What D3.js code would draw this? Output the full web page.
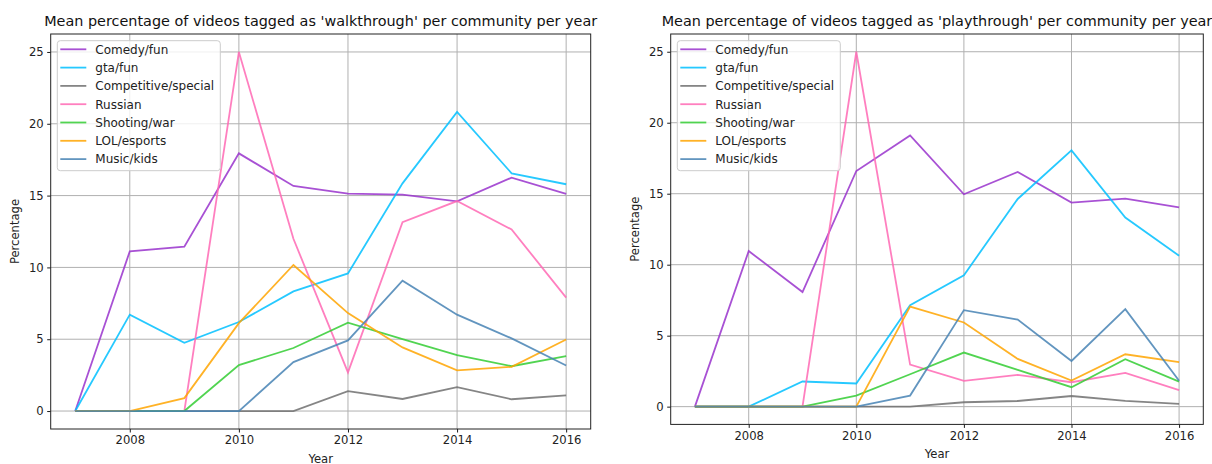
<!DOCTYPE html>
<html><head><meta charset="utf-8">
<script src="https://cdn.jsdelivr.net/npm/d3@7"></script>
<style>
body{margin:0;background:#fff;}
svg{display:block;font-family:"DejaVu Sans",sans-serif;}
</style></head><body>
<svg id="c" width="1212" height="464"></svg>
<script>
const years = [2007,2008,2009,2010,2011,2012,2013,2014,2015,2016];
const communities = ["Comedy/fun","gta/fun","Competitive/special","Russian","Shooting/war","LOL/esports","Music/kids"];
const colors = ["#9932cc","#00bfff","#707070","#ff69b4","#32cd32","#ffa500","#4682b4"];
const xTicks = [2008,2010,2012,2014,2016];
const yTicks = [0,5,10,15,20,25];

const walkComedy = [0,11.12,11.44,17.94,15.67,15.14,15.07,14.6,16.25,15.12];
const walkGta = [0,6.71,4.75,6.2,8.33,9.58,15.85,20.83,16.55,15.79];
const walkCompetitive = [0,0,0,0,0,1.39,0.84,1.67,0.82,1.09];
const walkRussian = [0,0,0,25,11.99,2.69,13.15,14.62,12.64,7.9];
const walkShooting = [0,0,0,3.2,4.39,6.15,5.01,3.9,3.12,3.82];
const walkLol = [0,0,0.9,6.12,10.17,6.82,4.43,2.83,3.08,4.98];
const walkMusic = [0,0,0,0,3.41,4.92,9.07,6.71,5.06,3.17];

const playComedy = [0,10.96,8.07,16.6,19.1,14.96,16.53,14.37,14.65,14.04];
const playGta = [0,0,1.77,1.63,7.15,9.26,14.63,18.05,13.32,10.63];
const playCompetitive = [0,0,0,0,0,0.31,0.4,0.75,0.4,0.19];
const playRussian = [0,0,0,25,2.96,1.81,2.24,1.72,2.38,1.17];
const playShooting = [0,0,0,0.78,2.28,3.81,2.59,1.37,3.34,1.76];
const playLol = [0,0,0,0,7.05,5.93,3.36,1.84,3.69,3.14];
const playMusic = [0,0,0,0,0.78,6.8,6.14,3.22,6.87,1.83];

const panels = [
  {title:"Mean percentage of videos tagged as 'walkthrough' per community per year",
   series:[walkComedy,walkGta,walkCompetitive,walkRussian,walkShooting,walkLol,walkMusic],
   box:{x0:50.7,x1:590.7,y0:34,y1:429}, ylabX:15, xlabY:462.5},
  {title:"Mean percentage of videos tagged as 'playthrough' per community per year",
   series:[playComedy,playGta,playCompetitive,playRussian,playShooting,playLol,playMusic],
   box:{x0:670.7,x1:1203.3,y0:34,y1:424.4}, ylabX:635, xlabY:458}
];

const svg = d3.select("#c");
const FS = 11.6, LFS = 12, TFS = 14.4;

panels.forEach(p => {
  const b = p.box;
  const allV = p.series.flat();
  const maxV = d3.max(allV), minV = d3.min(allV);
  const ym = (maxV-minV)*0.05;
  const x = d3.scaleLinear().domain([2007-0.45, 2016+0.45]).range([b.x0,b.x1]);
  const y = d3.scaleLinear().domain([minV-ym, maxV+ym]).range([b.y1,b.y0]);
  const g = svg.append("g");

  // grid
  g.append("g").selectAll("line").data(xTicks).join("line")
    .attr("x1",d=>x(d)).attr("x2",d=>x(d)).attr("y1",b.y0).attr("y2",b.y1)
    .attr("stroke","#b0b0b0").attr("stroke-width",1);
  g.append("g").selectAll("line").data(yTicks).join("line")
    .attr("y1",d=>y(d)).attr("y2",d=>y(d)).attr("x1",b.x0).attr("x2",b.x1)
    .attr("stroke","#b0b0b0").attr("stroke-width",1);

  // lines
  const line = d3.line().x((d,i)=>x(years[i])).y(d=>y(d));
  p.series.forEach((s,i)=>{
    g.append("path").datum(s).attr("d",line).attr("fill","none")
      .attr("stroke",colors[i]).attr("stroke-width",1.8).attr("stroke-opacity",0.85)
      .attr("stroke-linejoin","miter");
  });

  // axes
  const xa = g.append("g").attr("transform",`translate(0,${b.y1})`)
    .call(d3.axisBottom(x).tickValues(xTicks).tickFormat(d3.format("d")).tickSize(3.5).tickPadding(3.5));
  const ya = g.append("g").attr("transform",`translate(${b.x0},0)`)
    .call(d3.axisLeft(y).tickValues(yTicks).tickFormat(d3.format("d")).tickSize(3.5).tickPadding(3.5));
  [xa,ya].forEach(a=>{
    a.select(".domain").remove();
    a.selectAll("line").attr("stroke","#000").attr("stroke-width",0.9);
    a.selectAll("text").attr("font-family","DejaVu Sans").attr("font-size",FS).attr("fill","#222");
  });
  // frame
  g.append("rect").attr("x",b.x0).attr("y",b.y0).attr("width",b.x1-b.x0).attr("height",b.y1-b.y0)
    .attr("fill","none").attr("stroke","#222").attr("stroke-width",1);

  // title and labels
  g.append("text").attr("x",(b.x0+b.x1)/2).attr("y",b.y0-8).attr("text-anchor","middle")
    .attr("font-size",TFS).attr("fill","#111").text(p.title);
  g.append("text").attr("x",(b.x0+b.x1)/2).attr("y",p.xlabY).attr("text-anchor","middle")
    .attr("font-size",FS).attr("fill","#222").text("Year");
  g.append("text").attr("transform",`translate(${p.ylabX+4},${(b.y0+b.y1)/2}) rotate(-90)`)
    .attr("text-anchor","middle").attr("font-size",FS).attr("fill","#222").text("Percentage");

  // legend
  const lx = b.x0+6.6, ly = b.y0+6.7, lw = 163, lh = 130;
  const lg = g.append("g");
  lg.append("rect").attr("x",lx).attr("y",ly).attr("width",lw).attr("height",lh)
    .attr("rx",3).attr("fill","#fff").attr("fill-opacity",0.8).attr("stroke","#ccc").attr("stroke-width",1);
  communities.forEach((c,i)=>{
    const yy = ly + 8.6 + i*18.3;
    lg.append("line").attr("x1",lx+3).attr("x2",lx+29).attr("y1",yy).attr("y2",yy)
      .attr("stroke",colors[i]).attr("stroke-width",1.8).attr("stroke-opacity",0.85);
    lg.append("text").attr("x",lx+38).attr("y",yy+4.3).attr("font-size",LFS).attr("fill","#222").text(c);
  });
});
</script>
</body></html>
